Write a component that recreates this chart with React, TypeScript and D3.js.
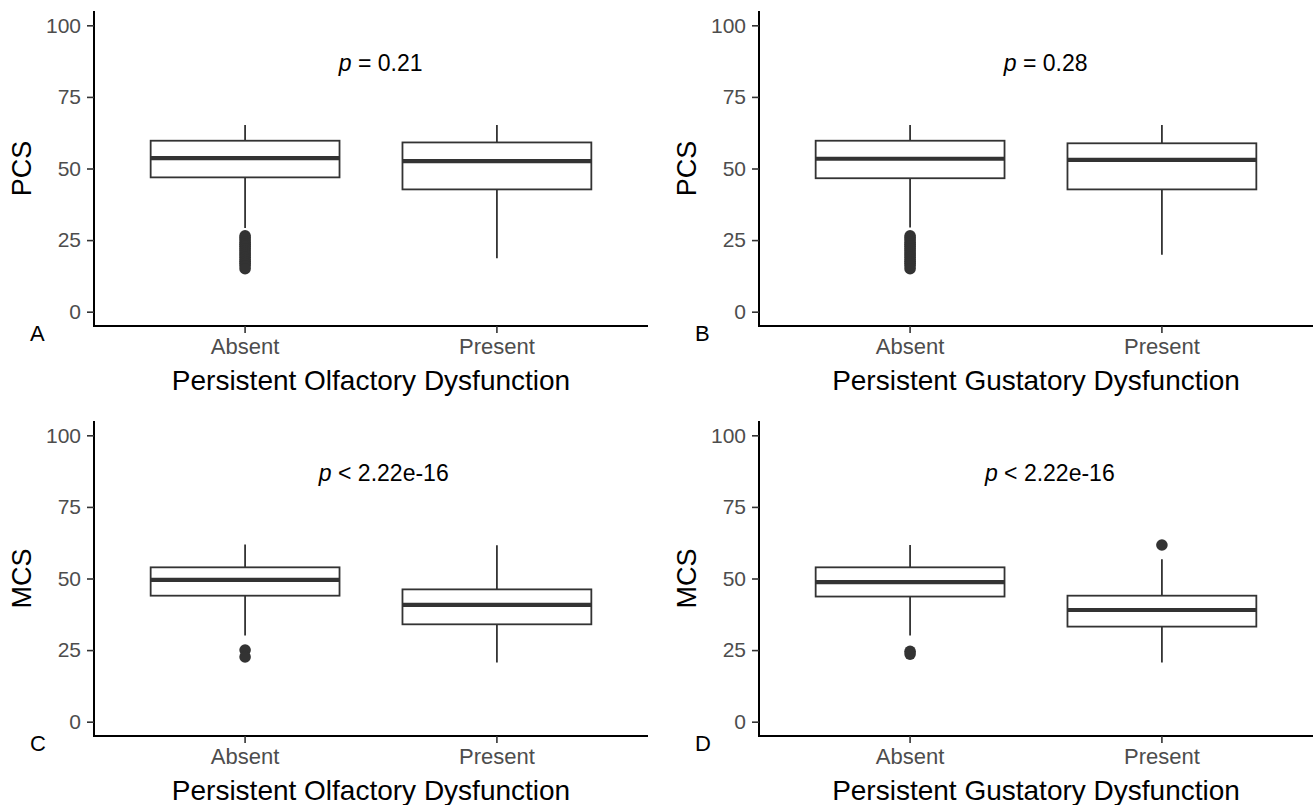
import React, { useEffect, useRef } from 'react';
import * as d3 from 'd3';

const categories = ['Absent', 'Present'];
const yTicks = [0, 25, 50, 75, 100];

// box stats per group: [lower whisker, q1, median, q3, upper whisker]
const olfPcsBoxes = [[29.2, 46.9, 53.6, 59.7, 65.2], [18.7, 42.7, 52.6, 59.1, 65.2]];
const olfPcsOutliers = [[26.5, 25.8, 25.0, 24.2, 23.5, 22.8, 22.0, 21.2, 20.5, 19.8, 19.0, 18.2, 17.5, 16.8, 16.0, 15.0], []];
const gusPcsBoxes = [[29.4, 46.6, 53.4, 59.7, 65.2], [19.9, 42.7, 53.0, 58.8, 65.2]];
const gusPcsOutliers = [[26.5, 25.8, 25.0, 24.2, 23.5, 22.8, 22.0, 21.2, 20.5, 19.8, 19.0, 18.2, 17.5, 16.8, 16.0, 15.0], []];
const olfMcsBoxes = [[30.1, 44.0, 49.5, 53.9, 61.9], [20.7, 34.0, 40.8, 46.2, 61.6]];
const olfMcsOutliers = [[25.0, 22.6], []];
const gusMcsBoxes = [[30.1, 43.7, 48.7, 53.9, 61.7], [20.7, 33.2, 39.0, 44.0, 56.7]];
const gusMcsOutliers = [[24.6, 23.6], [61.7]];

const panelLetters = ['A', 'B', 'C', 'D'];
const yTitles = ['PCS', 'PCS', 'MCS', 'MCS'];
const xTitles = [
  'Persistent Olfactory Dysfunction',
  'Persistent Gustatory Dysfunction',
  'Persistent Olfactory Dysfunction',
  'Persistent Gustatory Dysfunction',
];
const pSymbols = ['=', '=', '<', '<'];
const pValues = ['0.21', '0.28', '2.22e-16', '2.22e-16'];

const FONT = '"Liberation Sans", Arial, Helvetica, sans-serif';
const INK = '#333333';

const App = () => {
  const svgRef = useRef<SVGSVGElement>(null);

  useEffect(() => {
    const svg = d3.select(svgRef.current);
    svg.selectAll('*').remove();

    const boxes = [olfPcsBoxes, gusPcsBoxes, olfMcsBoxes, gusMcsBoxes];
    const outliers = [olfPcsOutliers, gusPcsOutliers, olfMcsOutliers, gusMcsOutliers];

    // panel frames in pixels
    const frames = [
      { left: 94, right: 648, top: 11, bottom: 326 },
      { left: 759, right: 1313, top: 11, bottom: 326 },
      { left: 94, right: 648, top: 421, bottom: 736 },
      { left: 759, right: 1313, top: 421, bottom: 736 },
    ];
    // p-label anchor: x in band steps from axis start, y in data value
    const pPos = [
      { x: 0.972, y: 87 },
      { x: 0.972, y: 87 },
      { x: 0.893, y: 87 },
      { x: 0.897, y: 87 },
    ];

    frames.forEach((f, i) => {
      const g = svg.append('g');
      const x = d3.scaleBand<string>()
        .domain(categories)
        .range([f.left, f.right])
        .paddingInner(0)
        .paddingOuter(0.1);
      const y = d3.scaleLinear().domain([-5, 105]).range([f.bottom, f.top]);
      const bw = x.bandwidth() * 0.75;

      // y axis
      const yAxis = g.append('g')
        .attr('transform', `translate(${f.left},0)`)
        .call(d3.axisLeft(y).tickValues(yTicks).tickSize(7).tickPadding(6).tickSizeOuter(0));
      yAxis.select('.domain').attr('stroke', '#000').attr('stroke-width', 2)
        .attr('d', `M0,${f.top}V${f.bottom}`);
      yAxis.selectAll('.tick line').attr('stroke', INK).attr('stroke-width', 1.6);
      yAxis.selectAll('.tick text')
        .attr('fill', '#4d4d4d')
        .style('font-family', FONT)
        .style('font-size', '21px');

      // x axis
      const xAxis = g.append('g')
        .attr('transform', `translate(0,${f.bottom})`)
        .call(d3.axisBottom(x).tickSize(7).tickPadding(5).tickSizeOuter(0));
      xAxis.select('.domain').attr('stroke', '#000').attr('stroke-width', 2)
        .attr('d', `M${f.left - 1},0H${f.right}`);
      xAxis.selectAll('.tick line').attr('stroke', INK).attr('stroke-width', 1.6);
      xAxis.selectAll('.tick text')
        .attr('fill', '#4d4d4d')
        .style('font-family', FONT)
        .style('font-size', '22px');

      // boxes
      categories.forEach((c, j) => {
        const [lo, q1, med, q3, hi] = boxes[i][j];
        const cx = (x(c) as number) + x.bandwidth() / 2;
        const bg = g.append('g');
        bg.append('line')
          .attr('x1', cx).attr('x2', cx)
          .attr('y1', y(hi)).attr('y2', y(q3))
          .attr('stroke', INK).attr('stroke-width', 1.8);
        bg.append('line')
          .attr('x1', cx).attr('x2', cx)
          .attr('y1', y(q1)).attr('y2', y(lo))
          .attr('stroke', INK).attr('stroke-width', 1.8);
        bg.append('rect')
          .attr('x', cx - bw / 2)
          .attr('y', y(q3))
          .attr('width', bw)
          .attr('height', y(q1) - y(q3))
          .attr('fill', '#fff')
          .attr('stroke', INK)
          .attr('stroke-width', 1.8);
        bg.append('line')
          .attr('x1', cx - bw / 2).attr('x2', cx + bw / 2)
          .attr('y1', y(med)).attr('y2', y(med))
          .attr('stroke', INK).attr('stroke-width', 4.2);
        bg.selectAll('circle')
          .data(outliers[i][j])
          .enter()
          .append('circle')
          .attr('cx', cx)
          .attr('cy', d => y(d))
          .attr('r', 5.8)
          .attr('fill', INK);
      });

      // p-value label
      const px = f.left + x.step() * pPos[i].x;
      const t = g.append('text')
        .attr('x', px)
        .attr('y', y(pPos[i].y))
        .attr('dy', '0.35em')
        .style('font-family', FONT)
        .style('font-size', '23px')
        .attr('fill', '#000');
      t.append('tspan').style('font-style', 'italic').text('p');
      t.append('tspan').text(` ${pSymbols[i]} ${pValues[i]}`);

      // axis titles
      g.append('text')
        .attr('transform', `translate(${f.left - 72},${(f.top + f.bottom) / 2}) rotate(-90)`)
        .attr('text-anchor', 'middle')
        .attr('dy', '0.35em')
        .style('font-family', FONT)
        .style('font-size', '27px')
        .attr('fill', '#000')
        .text(yTitles[i]);
      g.append('text')
        .attr('x', (f.left + f.right) / 2)
        .attr('y', f.bottom + 54)
        .attr('dy', '0.35em')
        .attr('text-anchor', 'middle')
        .style('font-family', FONT)
        .style('font-size', '28px')
        .attr('fill', '#000')
        .text(xTitles[i]);

      // panel letter
      g.append('text')
        .attr('x', f.left - 64)
        .attr('y', f.bottom + 15)
        .style('font-family', FONT)
        .style('font-size', '22px')
        .attr('fill', '#000')
        .text(panelLetters[i]);
    });
  }, []);

  return (
    <svg
      ref={svgRef}
      width={1314}
      height={805}
      style={{ position: 'absolute', left: 0, top: 0, background: '#fff' }}
    />
  );
};

export default App;
